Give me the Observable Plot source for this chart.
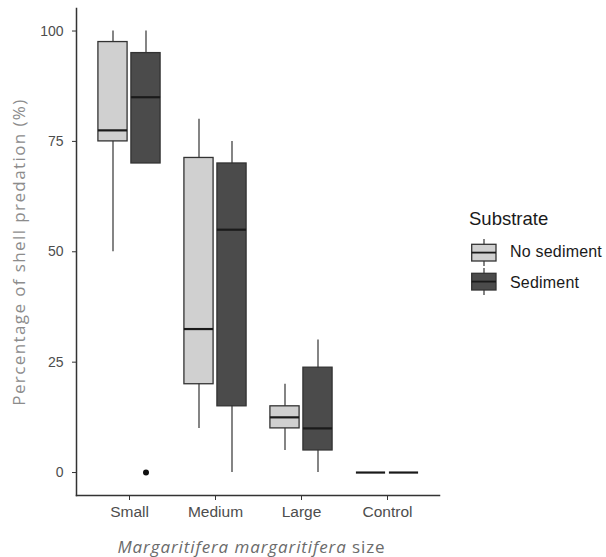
<!DOCTYPE html>
<html><head><meta charset="utf-8">
<script src="https://cdn.jsdelivr.net/npm/d3@7"></script>
<script src="https://cdn.jsdelivr.net/npm/@observablehq/plot@0.6"></script>
<style>
body{margin:0;background:#fff;}
#wrap{position:relative;width:606px;height:557px;overflow:hidden;font-family:"Liberation Sans",Arial,sans-serif;background:#fff;}
#chart{position:absolute;left:0;top:0;}
#chart [aria-label*="tick label"] text{fill:#4d4d4d;}
#chart .ytitle text{letter-spacing:1.4px;}
#xtitle{position:absolute;left:70px;width:363px;top:538px;text-align:center;font-family:"Open Sans",sans-serif;font-size:17px;line-height:18px;letter-spacing:0.9px;color:#6b6b6b;white-space:nowrap;}
#legtitle{position:absolute;left:469px;top:210px;font-size:18.5px;line-height:18.5px;color:#1a1a1a;}
.leglab{position:absolute;left:510px;font-size:16px;line-height:16px;color:#1a1a1a;white-space:nowrap;letter-spacing:0.2px;}
.legkey{position:absolute;left:471px;}
</style>
</head><body>
<div id="wrap">
  <div id="chart"></div>
  <div id="xtitle"><i>Margaritifera margaritifera</i> size</div>
  <div id="legend"></div>
</div>
<script>
// ---- data ----
const sizes = ["Small", "Medium", "Large", "Control"];
const substrates = ["No sediment", "Sediment"];
const yTicks = [0, 25, 50, 75, 100];
// No sediment
const noSedMin = [50, 10, 5, 0];
const noSedQ1  = [75, 20, 10, 0];
const noSedMed = [77.5, 32.5, 12.5, 0];
const noSedQ3  = [97.5, 71.25, 15, 0];
const noSedMax = [100, 80, 20, 0];
// Sediment
const sedMin = [70, 0, 0, 0];
const sedQ1  = [70, 15, 5, 0];
const sedMed = [85, 55, 10, 0];
const sedQ3  = [95, 70, 23.75, 0];
const sedMax = [100, 75, 30, 0];
// outliers
const outSize = ["Small"];
const outSubstrate = ["Sediment"];
const outValue = [0];

const fills = {"No sediment": "#d0d0d0", "Sediment": "#4b4b4b"};

// ---- tables ----
const noSed = sizes.map((s, i) => ({size: s, substrate: substrates[0], min: noSedMin[i], q1: noSedQ1[i], med: noSedMed[i], q3: noSedQ3[i], max: noSedMax[i]}));
const sed = sizes.map((s, i) => ({size: s, substrate: substrates[1], min: sedMin[i], q1: sedQ1[i], med: sedMed[i], q3: sedQ3[i], max: sedMax[i]}));
const outliers = outSize.map((s, i) => ({size: s, substrate: outSubstrate[i], value: outValue[i]}));

// ---- layout ----
const W = 440, H = 530, mL = 76, mR = 1, mT = 8, mB = 35;
const bw = (W - mL - mR) / 4.2;   // band width (paddingOuter 0.1)
const boxW = 29.6, gap = 3.4;
const off = gap / 2 + boxW / 2;
const insNS = {insetLeft: bw / 2 - gap / 2 - boxW, insetRight: bw / 2 + gap / 2};
const insS = {insetLeft: bw / 2 + gap / 2, insetRight: bw / 2 - gap / 2 - boxW};

function boxMarks(data, ins, dx) {
  const f = fills[data[0].substrate];
  return [
    Plot.ruleX(data, {x: "size", y1: "min", y2: "max", dx, stroke: "#333", strokeWidth: 1.2}),
    Plot.barY(data, {x: "size", y1: "q1", y2: "q3", fill: f, stroke: "#333", strokeWidth: 1.3, ...ins}),
    Plot.tickY(data, {x: "size", y: "med", stroke: "#1a1a1a", strokeWidth: 2.2, ...ins})
  ];
}

const chart = Plot.plot({
  width: W, height: H,
  marginLeft: mL, marginRight: mR, marginTop: mT, marginBottom: mB,
  style: {fontFamily: "Liberation Sans, Arial, sans-serif", background: "transparent", overflow: "visible"},
  x: {domain: sizes, paddingInner: 0, paddingOuter: 0.1, axis: null},
  y: {domain: [-5.2, 105.1], axis: null},
  marks: [
    Plot.frame({anchor: "left", stroke: "#333", strokeWidth: 1.5}),
    Plot.frame({anchor: "bottom", stroke: "#333", strokeWidth: 1.5}),
    Plot.axisY(yTicks, {tickSize: 4, tickPadding: 9, fontSize: 14, stroke: "#333", label: null}),
    Plot.axisX(sizes, {tickSize: 5, tickPadding: 5, fontSize: 15.5, stroke: "#333", label: null}),
    Plot.text(["Percentage of shell predation (%)"], {frameAnchor: "left", textAnchor: "middle", dx: -57, rotate: -90, fontFamily: "Open Sans, sans-serif", fontSize: 17, fill: "#8c8c8c", className: "ytitle"}),
    ...boxMarks(noSed, insNS, -off),
    ...boxMarks(sed, insS, off),
    Plot.dot(outliers, {x: "size", y: "value", dx: off, r: 3, fill: "#111", stroke: "none"})
  ]
});
document.getElementById("chart").appendChild(chart);

// ---- legend ----
const legend = document.getElementById("legend");
const t = document.createElement("div");
t.id = "legtitle"; t.textContent = "Substrate";
legend.appendChild(t);
const keyTops = [239, 268];
const labTops = [244, 275];
substrates.forEach((s, i) => {
  const k = document.createElementNS("http://www.w3.org/2000/svg", "svg");
  k.setAttribute("class", "legkey");
  k.setAttribute("width", 27); k.setAttribute("height", 29);
  k.style.top = keyTops[i] + "px";
  k.innerHTML = `<line x1="13" x2="13" y1="0" y2="27" stroke="#333" stroke-width="1.2"/>
    <rect x="0.7" y="5.3" width="24.3" height="16.7" fill="${fills[s]}" stroke="#333" stroke-width="1.3"/>
    <line x1="0.7" x2="25" y1="13.6" y2="13.6" stroke="#1a1a1a" stroke-width="1.8"/>`;
  legend.appendChild(k);
  const l = document.createElement("div");
  l.className = "leglab"; l.style.top = labTops[i] + "px"; l.textContent = s;
  legend.appendChild(l);
});
</script>
</body></html>
